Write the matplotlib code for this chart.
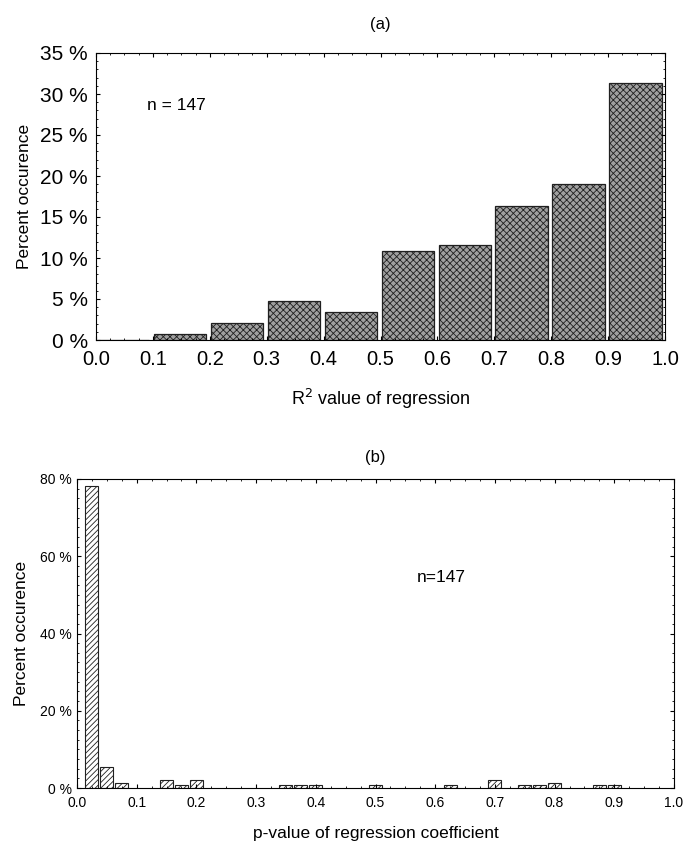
#!/usr/bin/env python3

import matplotlib
matplotlib.use('Agg')
import matplotlib.pyplot as plt
from matplotlib.ticker import MultipleLocator, FuncFormatter

plt.rcParams['font.family'] = ['Liberation Sans', 'DejaVu Sans']
plt.rcParams['hatch.linewidth'] = 0.6

# (a) R^2 histogram, bins of 0.1
r2_bin_left = [0.0, 0.1, 0.2, 0.3, 0.4, 0.5, 0.6, 0.7, 0.8, 0.9]
r2_percent = [0.0, 0.68, 2.04, 4.76, 3.40, 10.88, 11.56, 16.33, 19.05, 31.29]

# (b) p-value histogram, bars centred on multiples of 0.025
p_centres = [0.025, 0.05, 0.075, 0.15, 0.175, 0.2, 0.35, 0.375, 0.4, 0.5,
             0.625, 0.7, 0.75, 0.775, 0.8, 0.875, 0.9]
p_percent = [78.2, 5.44, 1.36, 2.04, 0.68, 2.04, 0.68, 0.68, 0.68, 0.68,
             0.68, 2.04, 0.68, 0.68, 1.36, 0.68, 0.68]

W, H = 684, 842
fig = plt.figure(figsize=(W / 100, H / 100), dpi=100)

def pct(v, p):
    return f'{v:.0f} %'

def one_dec(v, p):
    return f'{v:.1f}'

# ---- panel (a)
ax1 = fig.add_axes([96 / W, 1 - 340 / H, 569 / W, 287 / H])
ax1.bar([b + 0.002 for b in r2_bin_left], r2_percent, width=0.092, align='edge',
        facecolor='#a0a0a0', edgecolor='#202020', hatch='xxxxx', linewidth=0.9)
ax1.set_xlim(0, 1)
ax1.set_ylim(0, 35)
ax1.xaxis.set_major_locator(MultipleLocator(0.1))
ax1.xaxis.set_minor_locator(MultipleLocator(0.025))
ax1.yaxis.set_major_locator(MultipleLocator(5))
ax1.yaxis.set_minor_locator(MultipleLocator(1))
ax1.xaxis.set_major_formatter(FuncFormatter(one_dec))
ax1.yaxis.set_major_formatter(FuncFormatter(pct))
ax1.tick_params(which='both', direction='in', top=True, right=True, labelsize=15)
ax1.tick_params(axis='x', labelsize=14.5, pad=7)
ax1.tick_params(axis='y', pad=6)
ax1.tick_params(which='major', length=3)
ax1.tick_params(which='minor', length=1.5)
ax1.set_xlabel('R$^2$ value of regression', fontsize=13, labelpad=13)
ax1.set_ylabel('Percent occurence', fontsize=12.5, labelpad=6)
ax1.set_title('(a)', fontsize=12, pad=17)
ax1.text(0.09, 28.6, 'n = 147', fontsize=12.5, va='center', ha='left')

# ---- panel (b)
ax2 = fig.add_axes([77 / W, 1 - 788 / H, 597 / W, 309 / H])
ax2.bar(p_centres, p_percent, width=0.0218, align='center',
        facecolor='white', edgecolor='#202020', hatch='//////', linewidth=0.8)
ax2.set_xlim(0, 1)
ax2.set_ylim(0, 80)
ax2.xaxis.set_major_locator(MultipleLocator(0.1))
ax2.xaxis.set_minor_locator(MultipleLocator(0.025))
ax2.yaxis.set_major_locator(MultipleLocator(20))
ax2.yaxis.set_minor_locator(MultipleLocator(2.5))
ax2.xaxis.set_major_formatter(FuncFormatter(one_dec))
ax2.yaxis.set_major_formatter(FuncFormatter(pct))
ax2.tick_params(which='both', direction='in', top=True, right=True, labelsize=10)
ax2.tick_params(axis='x', pad=6)
ax2.tick_params(which='major', length=3)
ax2.tick_params(which='minor', length=1.5)
ax2.set_xlabel('p-value of regression coefficient', fontsize=12.5, labelpad=11)
ax2.set_ylabel('Percent occurence', fontsize=12.5, labelpad=8)
ax2.set_title('(b)', fontsize=12, pad=12)
ax2.text(0.61, 54.6, 'n=147', fontsize=12.5, va='center', ha='center')

fig.savefig('out.png', dpi=100)
